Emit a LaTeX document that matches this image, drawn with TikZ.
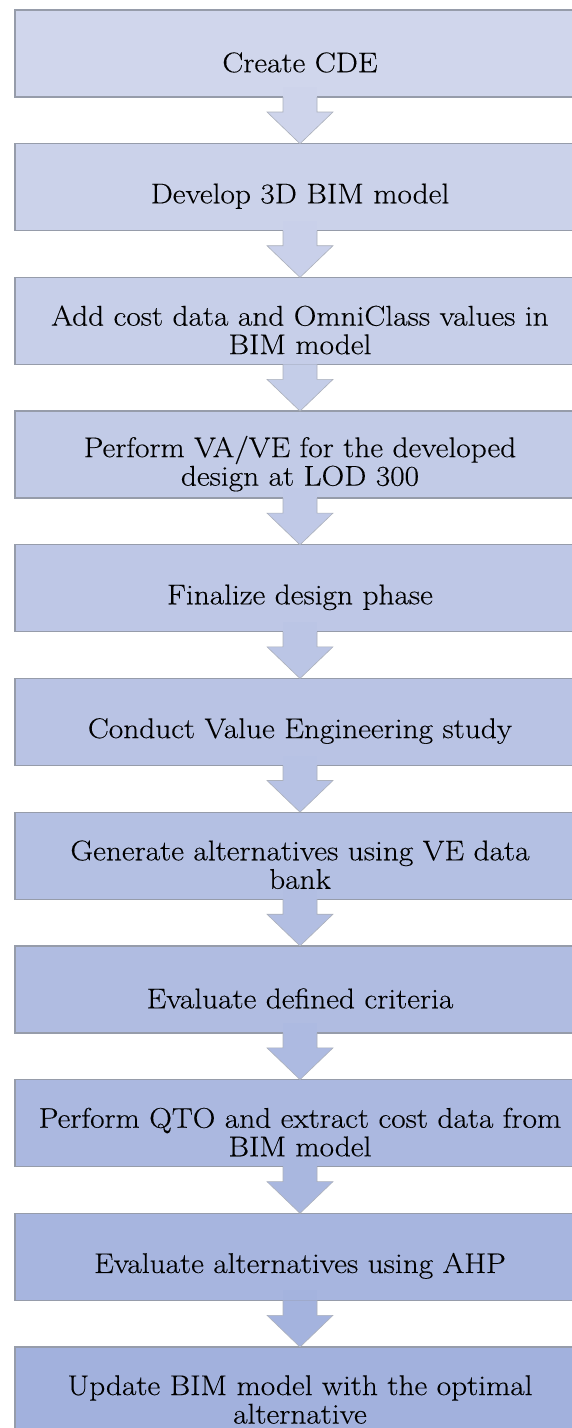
\documentclass[tikz,border=0pt]{standalone}
\usepackage{fontspec}
\setmainfont{Latin Modern Roman}[FakeStretch=1.1, FakeBold=0.3]
\usetikzlibrary{calc}
\definecolor{boxA}{RGB}{208,214,236}
\definecolor{boxB}{RGB}{162,177,221}
\definecolor{edgeC}{RGB}{150,156,170}
\tikzset{
  stepbox/.style={draw=edgeC, line width=1.3pt, minimum width=570pt, minimum height=87pt, inner sep=0pt, outer sep=0pt},
  lbl/.style={align=center, font=\fontsize{28.5}{28.5}\selectfont, text=black, inner sep=0pt},
  flowarrow/.style={draw=edgeC!80, line width=0.6pt, line join=miter}
}
\begin{document}
\begin{tikzpicture}[x=1pt,y=-1pt]
\useasboundingbox (0,0) rectangle (572,1428);
\clip (0,0) rectangle (572,1428);
\fill[white] (0,0) rectangle (572,1428);
\foreach \k/\txt in {0/{Create CDE},
  1/{Develop 3D BIM model},
  2/{Add cost data and OmniClass values in\\BIM model},
  3/{Perform VA/VE for the developed\\design at LOD 300},
  4/{Finalize design phase},
  5/{Conduct Value Engineering study},
  6/{Generate alternatives using VE data\\bank},
  7/{Evaluate defined criteria},
  8/{Perform QTO and extract cost data from\\BIM model},
  9/{Evaluate alternatives using AHP},
  10/{Update BIM model with the optimal\\alternative}}{
  \pgfmathsetmacro\ytop{10+133.7*\k}
  \pgfmathtruncatemacro\p{\k*10}
  \colorlet{cc}{boxB!\p!boxA}
  \node[stepbox, fill=cc] (b\k) at (300,\ytop+43.5) {};
  \node[lbl] (t\k) at ($(b\k.center)+(0,9)$) {\txt};
}
\foreach \k in {0,...,9}{
  \pgfmathtruncatemacro\n{\k+1}
  \pgfmathtruncatemacro\p{\k*10+5}
  \colorlet{ac}{boxB!\p!boxA}
  \fill[ac] ($(b\k.south)+(-17,-10)$) rectangle ($(b\k.south)+(17,0)$);
  \filldraw[flowarrow, fill=ac]
    ($(b\k.south)+(-17,0)$) -- ($(b\k.south)+(-17,15)$) -- ($(b\k.south)+(-33,15)$)
    -- (b\n.north) -- ($(b\k.south)+(33,15)$) -- ($(b\k.south)+(17,15)$) -- ($(b\k.south)+(17,0)$);
}
\end{tikzpicture}
\end{document}
